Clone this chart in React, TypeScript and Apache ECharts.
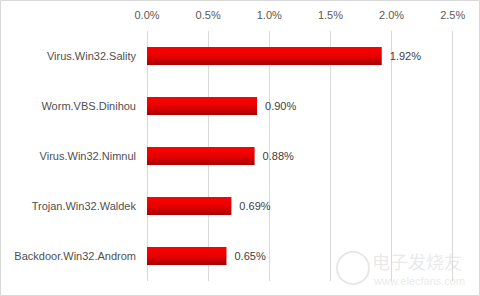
import React, { useEffect, useRef } from "react";
import * as echarts from "echarts";

const categories = [
  "Virus.Win32.Sality",
  "Worm.VBS.Dinihou",
  "Virus.Win32.Nimnul",
  "Trojan.Win32.Waldek",
  "Backdoor.Win32.Androm",
];
const values = [1.92, 0.9, 0.88, 0.69, 0.65];
const axisMin = 0;
const axisMax = 2.5;
const axisStep = 0.5;

export default function App() {
  const ref = useRef<HTMLDivElement>(null);
  useEffect(() => {
    document.body.style.margin = "0";
    if (!ref.current) return;
    const chart = echarts.init(ref.current, undefined, { renderer: "svg" });
    const font = "Liberation Sans, Arial, sans-serif";
    chart.setOption({
      animation: false,
      backgroundColor: "#ffffff",
      grid: { left: 147, right: 27.3, top: 31, bottom: 15, containLabel: false },
      xAxis: {
        type: "value",
        position: "top",
        min: axisMin,
        max: axisMax,
        interval: axisStep,
        axisLine: { show: false },
        axisTick: { show: false },
        axisLabel: {
          color: "#595959",
          fontFamily: font,
          fontSize: 11,
          margin: 11,
          formatter: (v: number) => v.toFixed(1) + "%",
        },
        splitLine: { show: true, lineStyle: { color: "#d9d9d9", width: 1 } },
      },
      yAxis: {
        type: "category",
        data: categories,
        inverse: true,
        axisLine: { show: false },
        axisTick: { show: false },
        axisLabel: {
          color: "#4f4f4f",
          fontFamily: font,
          fontSize: 11,
          margin: 11,
        },
      },
      series: [
        {
          type: "bar",
          data: values,
          barWidth: 18,
          itemStyle: {
            color: new echarts.graphic.LinearGradient(0, 0, 0, 1, [
              { offset: 0, color: "#ff0000" },
              { offset: 0.5, color: "#e80000" },
              { offset: 1, color: "#a80000" },
            ]),
          },
          label: {
            show: true,
            position: "right",
            distance: 8,
            color: "#404040",
            fontFamily: font,
            fontSize: 11,
            formatter: (p: any) => p.value.toFixed(2) + "%",
          },
        },
      ],
      graphic: [
        {
          type: "rect",
          shape: { x: 0.5, y: 0.5, width: 479, height: 295 },
          style: { fill: "none", stroke: "#d9d9d9", lineWidth: 1 },
          silent: true,
        },
        {
          type: "circle",
          shape: { cx: 353, cy: 268, r: 16 },
          style: { fill: "none", stroke: "rgba(210,210,210,0.5)", lineWidth: 2 },
          silent: true,
        },
        {
          type: "text",
          left: 372,
          top: 252,
          style: {
            text: "电子发烧友",
            fill: "rgba(205,205,205,0.45)",
            fontSize: 18,
            fontFamily: "Noto Sans CJK SC",
          },
          silent: true,
        },
        {
          type: "text",
          left: 374,
          top: 275,
          style: {
            text: "www.elecfans.com",
            fill: "rgba(205,205,205,0.45)",
            fontSize: 11,
            fontFamily: font,
          },
          silent: true,
        },
      ],
    });
    return () => chart.dispose();
  }, []);
  return <div ref={ref} style={{ width: 480, height: 296 }} />;
}
